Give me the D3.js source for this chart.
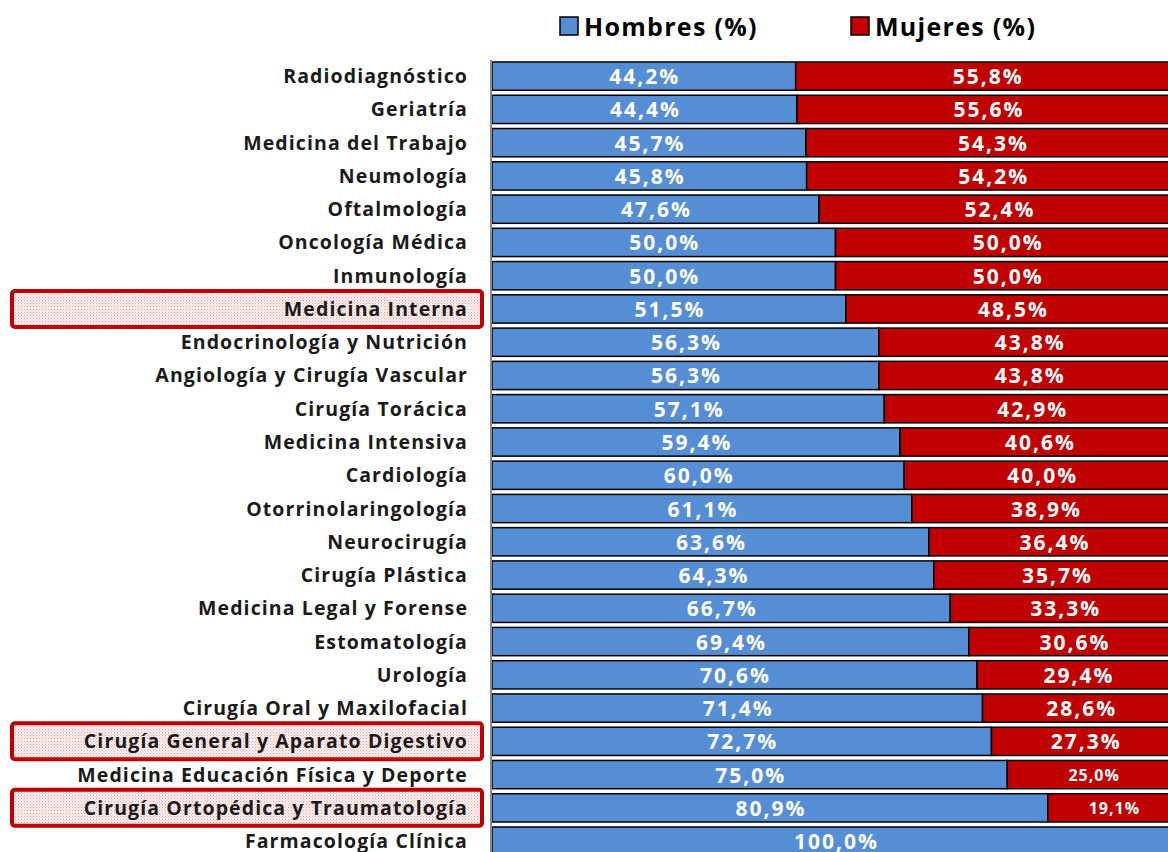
<!DOCTYPE html>
<html>
<head>
<meta charset="utf-8">
<script src="https://cdn.jsdelivr.net/npm/d3@7"></script>
<style>
  body { margin: 0; background: #fff; overflow: hidden; }
  text { font-family: "Open Sans", Lato, sans-serif; font-weight: bold; }
</style>
</head>
<body>
<script>
var width = 1168;
var height = 852;

var especialidades = ["Radiodiagnóstico", "Geriatría", "Medicina del Trabajo", "Neumología", "Oftalmología",
  "Oncología Médica", "Inmunología", "Medicina Interna", "Endocrinología y Nutrición",
  "Angiología y Cirugía Vascular", "Cirugía Torácica", "Medicina Intensiva", "Cardiología",
  "Otorrinolaringología", "Neurocirugía", "Cirugía Plástica", "Medicina Legal y Forense",
  "Estomatología", "Urología", "Cirugía Oral y Maxilofacial", "Cirugía General y Aparato Digestivo",
  "Medicina Educación Física y Deporte", "Cirugía Ortopédica y Traumatología", "Farmacología Clínica"];

var hombres = [44.2, 44.4, 45.7, 45.8, 47.6, 50.0, 50.0, 51.5, 56.3, 56.3, 57.1, 59.4, 60.0,
  61.1, 63.6, 64.3, 66.7, 69.4, 70.6, 71.4, 72.7, 75.0, 80.9, 100.0];
var mujeres = [55.8, 55.6, 54.3, 54.2, 52.4, 50.0, 50.0, 48.5, 43.8, 43.8, 42.9, 40.6, 40.0,
  38.9, 36.4, 35.7, 33.3, 30.6, 29.4, 28.6, 27.3, 25.0, 19.1, 0];

var series = ["Hombres (%)", "Mujeres (%)"];
var colores = ["#558ed5", "#c00000"];

// especialidades resaltadas con recuadro rojo
var resaltadas = ["Medicina Interna", "Cirugía General y Aparato Digestivo", "Cirugía Ortopédica y Traumatología"];

var svg = d3.select("body").append("svg")
    .attr("width", width)
    .attr("height", height);

var defs = svg.append("defs");
var pat = defs.append("pattern")
    .attr("id", "puntos")
    .attr("width", 3).attr("height", 3)
    .attr("patternUnits", "userSpaceOnUse");
pat.append("rect").attr("width", 3).attr("height", 3).attr("fill", "#fbeeee");
pat.append("rect").attr("width", 1).attr("height", 1).attr("fill", "#e8a6a6");
pat.append("rect").attr("x", 1.5).attr("y", 1.5).attr("width", 1).attr("height", 1).attr("fill", "#efc4c4");

var x = d3.scaleLinear().domain([0, 100]).range([492, 1179]);
// paso de 33.26 px por fila, primera barra en y = 62
var y = d3.scaleBand().domain(especialidades).range([62, 62 + 33.26 * 23.85]).paddingInner(0.15).paddingOuter(0);

var rows = especialidades.map(function(d, i) {
  return { name: d, h: hombres[i], m: mujeres[i] };
});

// recuadros resaltados (detrás del texto)
svg.selectAll(".resalte")
  .data(rows.filter(function(d) { return resaltadas.indexOf(d.name) >= 0; }))
  .enter().append("rect")
  .attr("class", "resalte")
  .attr("x", 12)
  .attr("y", function(d) { return y(d.name) + y.bandwidth() / 2 - 18; })
  .attr("width", 470)
  .attr("height", 36)
  .attr("rx", 3)
  .attr("fill", "url(#puntos)")
  .attr("stroke", "#c00000")
  .attr("stroke-width", 4);

// barras hombres
svg.selectAll(".bar-h")
  .data(rows)
  .enter().append("rect")
  .attr("class", "bar-h")
  .attr("x", x(0))
  .attr("y", function(d) { return y(d.name); })
  .attr("width", function(d) { return x(d.h) - x(0); })
  .attr("height", y.bandwidth())
  .attr("fill", colores[0])
  .attr("stroke", "#000")
  .attr("stroke-width", 1.5);

// barras mujeres
svg.selectAll(".bar-m")
  .data(rows.filter(function(d) { return d.m > 0; }))
  .enter().append("rect")
  .attr("class", "bar-m")
  .attr("x", function(d) { return x(d.h); })
  .attr("y", function(d) { return y(d.name); })
  .attr("width", function(d) { return x(d.h + d.m) - x(d.h); })
  .attr("height", y.bandwidth())
  .attr("fill", colores[1])
  .attr("stroke", "#000")
  .attr("stroke-width", 1.5);

function fmt(v) { return v.toFixed(1).replace(".", ",") + "%"; }

// etiquetas de datos
svg.selectAll(".lab-h")
  .data(rows)
  .enter().append("text")
  .attr("class", "lab-h")
  .attr("x", function(d) { return (x(0) + x(d.h)) / 2 + 1; })
  .attr("y", function(d) { return y(d.name) + y.bandwidth() / 2 + 8; })
  .attr("text-anchor", "middle")
  .attr("fill", "#fff")
  .style("font-size", "21px")
  .style("letter-spacing", "2px")
  .text(function(d) { return fmt(d.h); });

svg.selectAll(".lab-m")
  .data(rows.filter(function(d) { return d.m > 0; }))
  .enter().append("text")
  .attr("class", "lab-m")
  .attr("x", function(d) { return (x(d.h) + x(d.h + d.m)) / 2 + 1; })
  .attr("y", function(d) { return y(d.name) + y.bandwidth() / 2 + (d.m < 26 ? 6 : 8); })
  .attr("text-anchor", "middle")
  .attr("fill", "#fff")
  .style("font-size", function(d) { return d.m < 26 ? "16px" : "21px"; })
  .style("letter-spacing", function(d) { return d.m < 26 ? "1px" : "2px"; })
  .text(function(d) { return fmt(d.m); });

// eje vertical
svg.append("line")
  .attr("x1", 491).attr("x2", 491)
  .attr("y1", 60).attr("y2", height)
  .attr("stroke", "#8c8c8c")
  .attr("stroke-width", 2);

// etiquetas de categorías
svg.selectAll(".cat")
  .data(especialidades)
  .enter().append("text")
  .attr("class", "cat")
  .attr("x", 468)
  .attr("y", function(d) { return y(d) + y.bandwidth() / 2 + 7; })
  .attr("text-anchor", "end")
  .attr("fill", "#1a1a1a")
  .style("font-size", "19.5px")
  .style("letter-spacing", "1.1px")
  .text(function(d) { return d; });

// leyenda
var leg = svg.selectAll(".leg")
  .data(series)
  .enter().append("g")
  .attr("class", "leg")
  .attr("transform", function(d, i) { return "translate(" + (560 + i * 291) + ",17)"; });
leg.append("rect")
  .attr("width", 18).attr("height", 18)
  .attr("fill", function(d, i) { return colores[i]; })
  .attr("stroke", "#000").attr("stroke-width", 1.5);
leg.append("text")
  .attr("x", 24).attr("y", 19)
  .attr("fill", "#000")
  .style("font-size", "25px")
  .style("letter-spacing", "1.3px")
  .text(function(d) { return d; });
</script>
</body>
</html>
